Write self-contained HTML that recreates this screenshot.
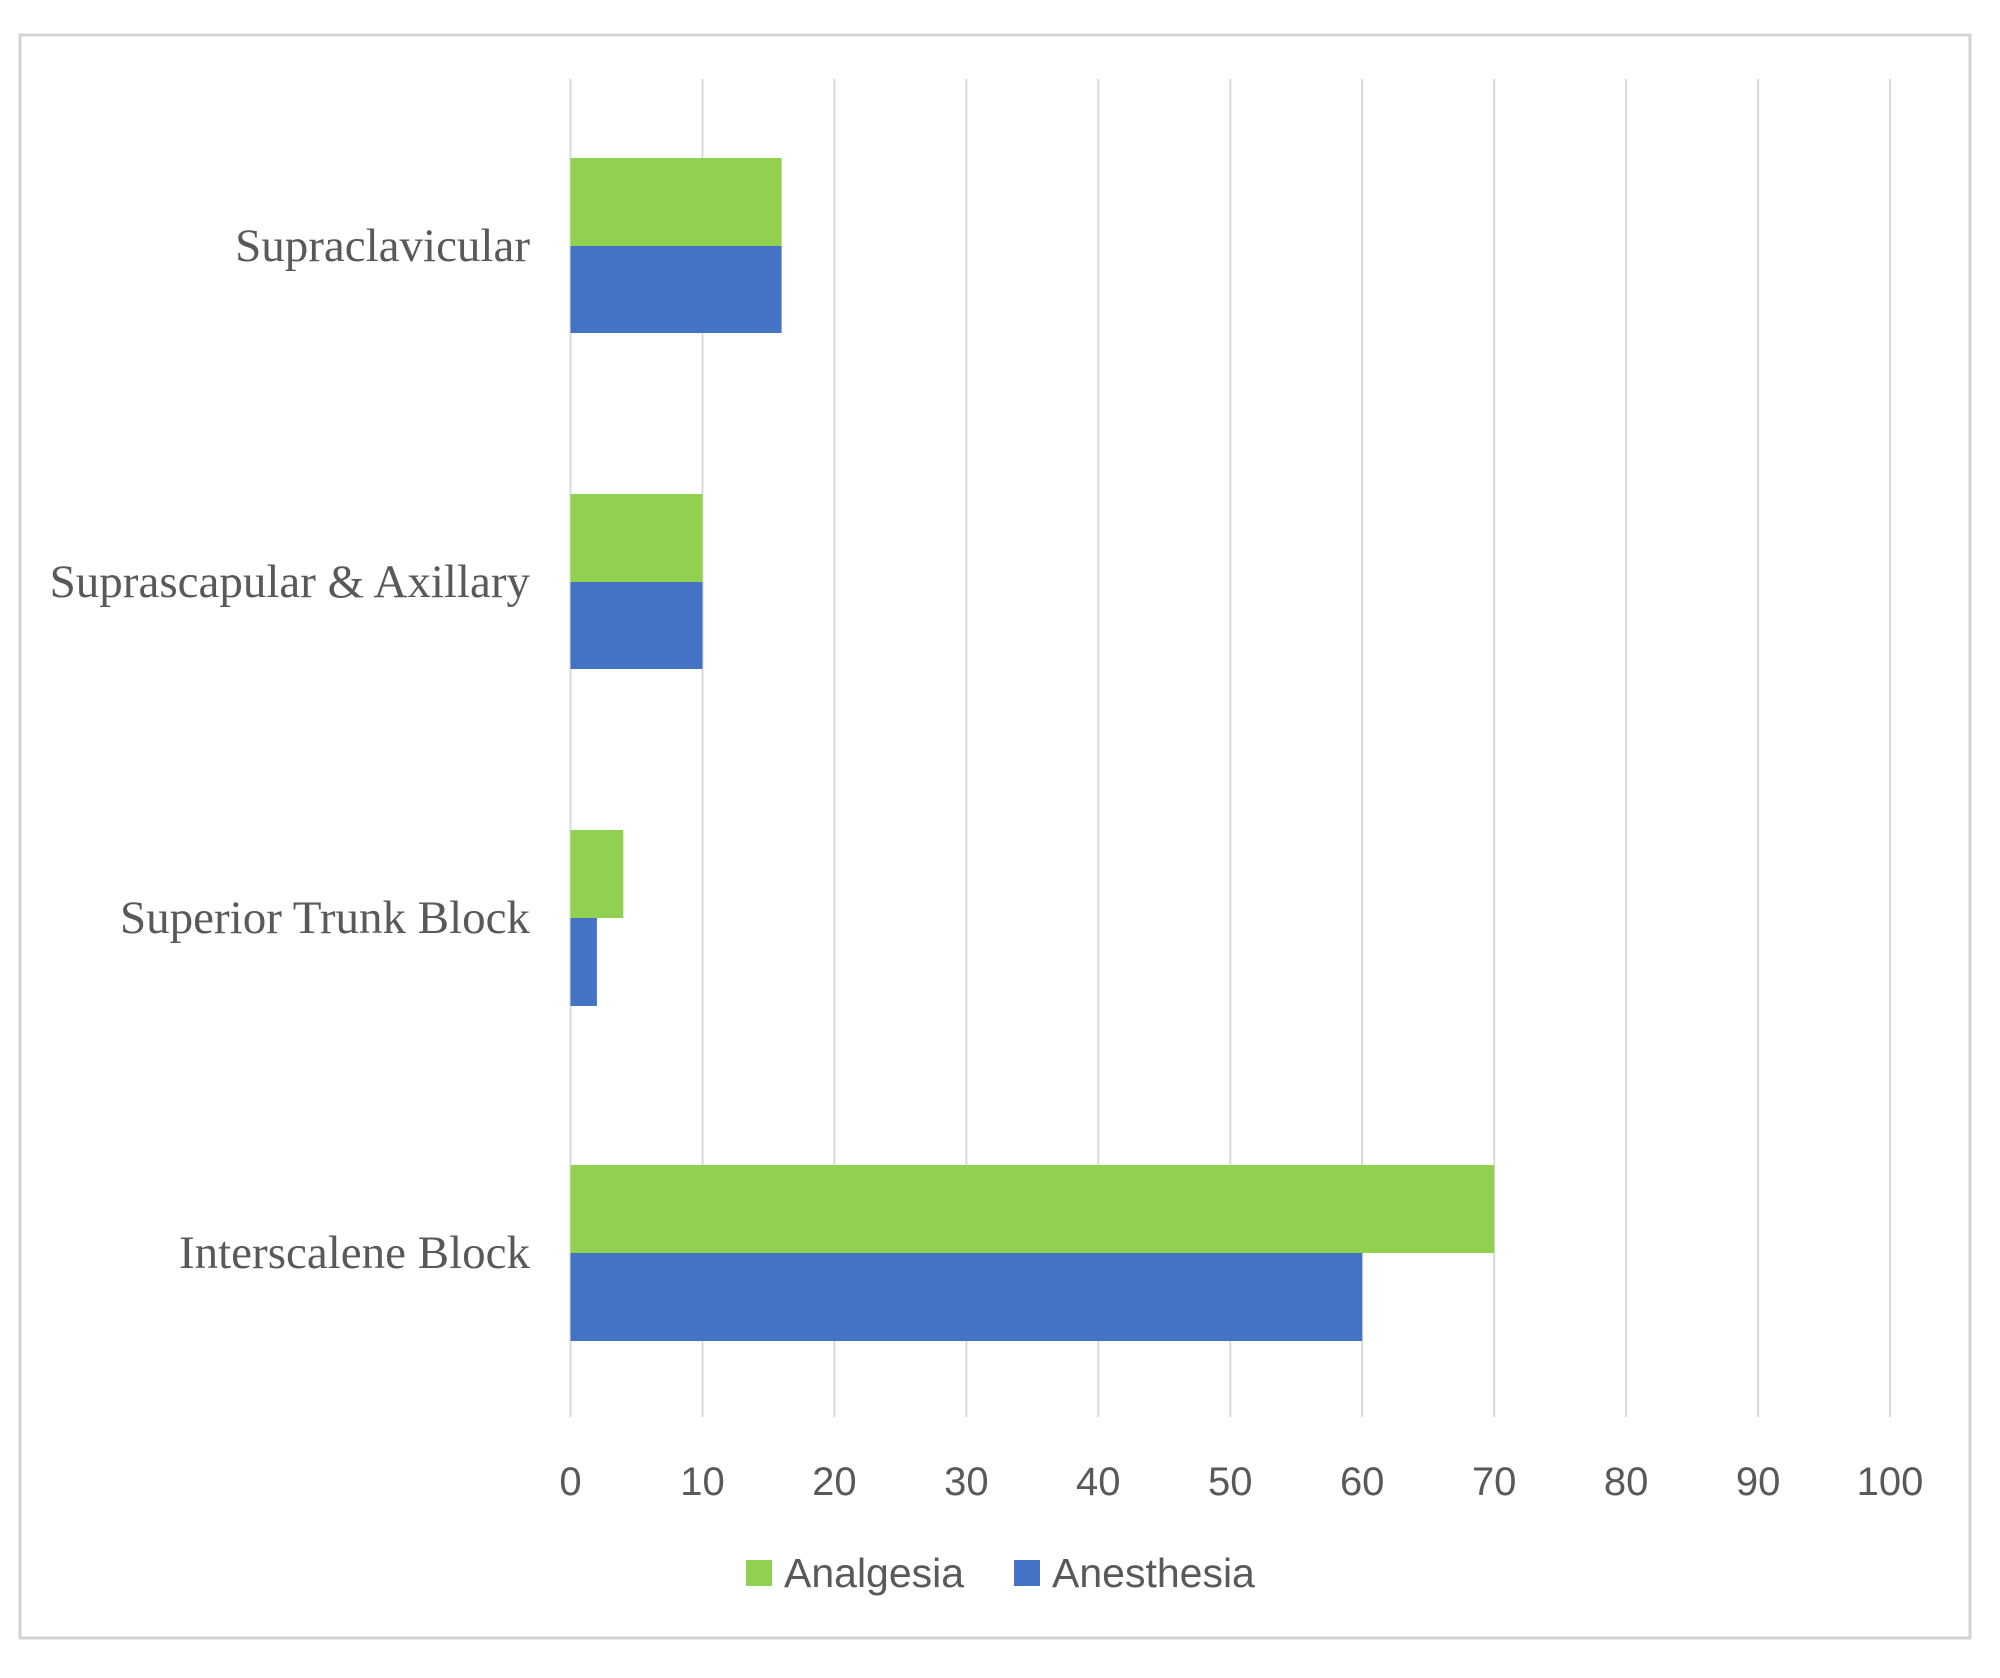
<!DOCTYPE html>
<html><head><style>
html,body{margin:0;padding:0;background:#fff;}
</style></head><body>
<svg width="2000" height="1673" xmlns="http://www.w3.org/2000/svg">
<rect x="0" y="0" width="2000" height="1673" fill="#fff"/>
<rect x="20" y="35" width="1950" height="1603" fill="none" stroke="#d4d4d4" stroke-width="3"/>
<g stroke="#d9d9d9" stroke-width="2">
<line x1="570.5" y1="79" x2="570.5" y2="1417"/>
<line x1="702.5" y1="79" x2="702.5" y2="1417"/>
<line x1="834.4" y1="79" x2="834.4" y2="1417"/>
<line x1="966.4" y1="79" x2="966.4" y2="1417"/>
<line x1="1098.3" y1="79" x2="1098.3" y2="1417"/>
<line x1="1230.3" y1="79" x2="1230.3" y2="1417"/>
<line x1="1362.2" y1="79" x2="1362.2" y2="1417"/>
<line x1="1494.2" y1="79" x2="1494.2" y2="1417"/>
<line x1="1626.1" y1="79" x2="1626.1" y2="1417"/>
<line x1="1758.1" y1="79" x2="1758.1" y2="1417"/>
<line x1="1890" y1="79" x2="1890" y2="1417"/>
</g>
<g>
<rect x="570.5" y="158" width="211.1" height="88" fill="#92d050"/>
<rect x="570.5" y="246" width="211.1" height="87" fill="#4472c4"/>
<rect x="570.5" y="494" width="132" height="88" fill="#92d050"/>
<rect x="570.5" y="582" width="132" height="87" fill="#4472c4"/>
<rect x="570.5" y="830" width="52.8" height="88" fill="#92d050"/>
<rect x="570.5" y="918" width="26.4" height="88" fill="#4472c4"/>
<rect x="570.5" y="1165" width="923.7" height="88" fill="#92d050"/>
<rect x="570.5" y="1253" width="791.7" height="88" fill="#4472c4"/>
</g>
<g font-family="Liberation Serif, serif" font-size="47" fill="#595959" text-anchor="end" dominant-baseline="central">
<text x="530" y="246">Supraclavicular</text>
<text x="530" y="582">Suprascapular &amp; Axillary</text>
<text x="530" y="918">Superior Trunk Block</text>
<text x="530" y="1253">Interscalene Block</text>
</g>
<g font-family="Liberation Sans, sans-serif" font-size="40" fill="#595959" text-anchor="middle">
<text x="570.5" y="1495">0</text>
<text x="702.5" y="1495">10</text>
<text x="834.4" y="1495">20</text>
<text x="966.4" y="1495">30</text>
<text x="1098.3" y="1495">40</text>
<text x="1230.3" y="1495">50</text>
<text x="1362.2" y="1495">60</text>
<text x="1494.2" y="1495">70</text>
<text x="1626.1" y="1495">80</text>
<text x="1758.1" y="1495">90</text>
<text x="1890" y="1495">100</text>
</g>
<rect x="746" y="1560" width="26" height="26" fill="#92d050"/>
<rect x="1014" y="1560" width="26" height="26" fill="#4472c4"/>
<g font-family="Liberation Sans, sans-serif" font-size="41" fill="#595959">
<text x="784" y="1587">Analgesia</text>
<text x="1052" y="1587">Anesthesia</text>
</g>
</svg>
</body></html>
